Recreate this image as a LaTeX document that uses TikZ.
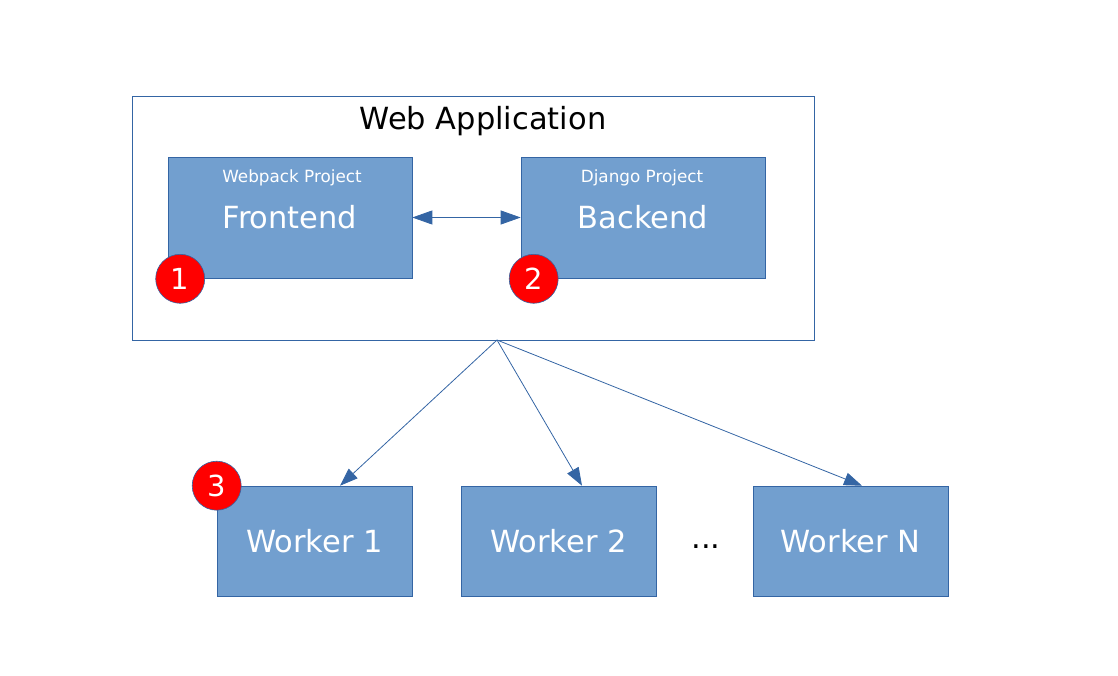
\documentclass[tikz,border=0pt]{standalone}
\usepackage{fontspec}
\setmainfont{DejaVu Sans}
\usetikzlibrary{arrows.meta,calc}
\definecolor{boxblue}{HTML}{729FCF}
\definecolor{lineblue}{HTML}{3465A4}
\begin{document}
\begin{tikzpicture}[x=1pt, y=-1pt, line width=0.8pt,
	project/.style={rectangle, fill=boxblue, draw=lineblue, line width=0.6pt, minimum width=244pt, minimum height=121pt, inner sep=0pt, text=white, font=\fontsize{30.5}{36}\selectfont},
	worker/.style={rectangle, fill=boxblue, draw=lineblue, line width=0.6pt, minimum width=195pt, minimum height=110pt, inner sep=0pt, text=white, font=\fontsize{30.5}{36}\selectfont},
	subtitle/.style={text=white, inner sep=0pt, font=\fontsize{16.8}{20}\selectfont},
	badge/.style={circle, fill=red, draw=lineblue, line width=0.6pt, minimum size=49pt, inner sep=0pt, text=white, font=\fontsize{29}{34}\selectfont},
	link/.style={draw=lineblue, line width=0.8pt, -{Triangle[length=18pt,width=13pt]}}]
	\useasboundingbox (0,0) rectangle (1118,676);

	\node[rectangle, draw=lineblue, minimum width=682pt, minimum height=244pt, inner sep=0pt](app) at (473,218){};
	\node[inner sep=0pt, font=\fontsize{30.5}{36}\selectfont](apptitle) at (483,121){Web Application};

	\node[project](front) at (290,217.5){Frontend};
	\node[project](back) at (643,217.5){Backend};
	\node[subtitle](frontsub) at (292,177.5){Webpack Project};
	\node[subtitle](backsub) at (642,177.5){Django Project};

	\node[worker](wone) at (314.5,541){Worker 1};
	\node[worker](wtwo) at (558.5,541){Worker 2};
	\node[worker](wn) at (850.5,541){Worker N};
	\node[inner sep=0pt, font=\fontsize{30.5}{36}\selectfont](dots) at (706,547){...};

	\node[badge](one) at ($(front.south west)+(12.5,0.5)$){1};
	\node[badge](two) at ($(back.south west)+(13,0.5)$){2};
	\node[badge](three) at (wone.north west){3};

	\draw [draw=lineblue, line width=0.8pt, {Triangle[length=20pt,width=14pt]}-{Triangle[length=20pt,width=14pt]}] (front.east) -- (back.west);

	\coordinate (hub) at (497,340);
	\draw [link] (hub) -- ($(wone.north)+(25.5,0)$);
	\draw [link] (hub) -- ($(wtwo.north)+(23.5,0)$);
	\draw [link] (hub) -- ($(wn.north)+(11.5,0)$);
\end{tikzpicture}
\end{document}
